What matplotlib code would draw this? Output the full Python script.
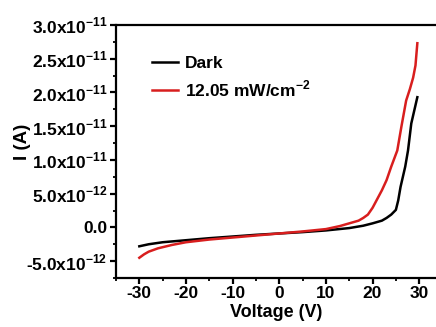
import numpy as np
import matplotlib
matplotlib.use("Agg")
import matplotlib.pyplot as plt
from matplotlib.ticker import MultipleLocator

## fonts: bold arial-like everywhere, mathtext for the superscripts
plt.rcParams['font.family'] = 'Liberation Sans'
plt.rcParams['font.weight'] = 'bold'
plt.rcParams['mathtext.fontset'] = 'custom'
plt.rcParams['mathtext.rm'] = 'Liberation Sans:bold'
plt.rcParams['mathtext.bf'] = 'Liberation Sans:bold'
plt.rcParams['axes.unicode_minus'] = False

## data (current in units of 1e-12 A)
v_dark = [-30, -28, -25, -20, -15, -10, -5, 0, 5, 10, 15, 18, 20, 22, 23, 24,
          25, 25.5, 26, 26.5, 27, 27.6, 28.3, 29, 29.6]
i_dark = [-2.8, -2.5, -2.2, -1.9, -1.6, -1.35, -1.1, -0.9, -0.7, -0.45, -0.1, 0.25,
          0.6, 1.0, 1.4, 1.9, 2.6, 4.0, 6.0, 7.5, 9.0, 11.4, 15.4, 17.5, 19.3]

v_light = [-30, -29, -28, -26, -23, -20, -15, -10, -5, 0, 5, 10, 13, 15, 17, 18,
           19, 20, 21, 22, 23, 24, 25.3, 26.2, 27.2, 28, 28.7, 29.2, 29.6]
i_light = [-4.5, -4.0, -3.6, -3.1, -2.6, -2.2, -1.8, -1.5, -1.2, -0.9, -0.6, -0.25,
           0.2, 0.6, 1.0, 1.4, 1.9, 2.9, 4.2, 5.5, 7.0, 9.0, 11.4, 15.0, 18.8, 20.5,
           22.2, 24.0, 27.3]

labels = ['Dark', '12.05 mW/cm$^{-2}$']
x_ticks = [-30, -20, -10, 0, 10, 20, 30]
y_ticks = [-5e-12, 0, 5e-12, 1e-11, 1.5e-11, 2e-11, 2.5e-11, 3e-11]
y_tick_labels = ['-5.0x10$^{-12}$', '0.0', '5.0x10$^{-12}$', '1.0x10$^{-11}$',
                 '1.5x10$^{-11}$', '2.0x10$^{-11}$', '2.5x10$^{-11}$', '3.0x10$^{-11}$']

fig = plt.figure(figsize=(4.36, 3.27), dpi=100)
## the original is cropped on the right, so the axes stop at the figure edge
ax = fig.add_axes([116/436, 49/327, 320/436, 253/327])

ax.plot(v_dark, np.array(i_dark) * 1e-12, color='black', lw=1.8, label=labels[0])
ax.plot(v_light, np.array(i_light) * 1e-12, color='#d81e1e', lw=1.8, label=labels[1])

ax.set_xlim(-35, 33.6)
ax.set_ylim(-7.5e-12, 3e-11)
ax.set_xticks(x_ticks)
ax.xaxis.set_minor_locator(MultipleLocator(5))
ax.set_yticks(y_ticks)
ax.set_yticklabels(y_tick_labels)
ax.yaxis.set_minor_locator(MultipleLocator(2.5e-12))

for name in ['left', 'bottom']:
    ax.spines[name].set_linewidth(1.6)
ax.spines['right'].set_visible(False)
ax.spines['top'].set_visible(False)
## top frame line drawn by hand along the upper axes edge
ax.plot([0, 1], [1, 1], transform=ax.transAxes, color='black', lw=1.6,
        clip_on=False, solid_capstyle='butt', zorder=5)

ax.tick_params(which='major', direction='out', length=4, width=1.6, labelsize=12.5, pad=2)
ax.tick_params(which='minor', direction='out', length=2.5, width=1.3)

ax.set_xlabel('Voltage (V)', fontsize=13, fontweight='bold', labelpad=2)
ax.set_ylabel('I (A)', fontsize=13.5, fontweight='bold')
ax.yaxis.set_label_coords(-0.267, 0.54)

ax.legend(handles=ax.get_lines()[:2], loc='center left', bbox_to_anchor=(0.112, 0.792),
          frameon=False, borderaxespad=0, borderpad=0, fontsize=12.5, handlelength=1.5,
          handletextpad=0.4, labelspacing=0.45)

fig.savefig('out.png', dpi=100)
